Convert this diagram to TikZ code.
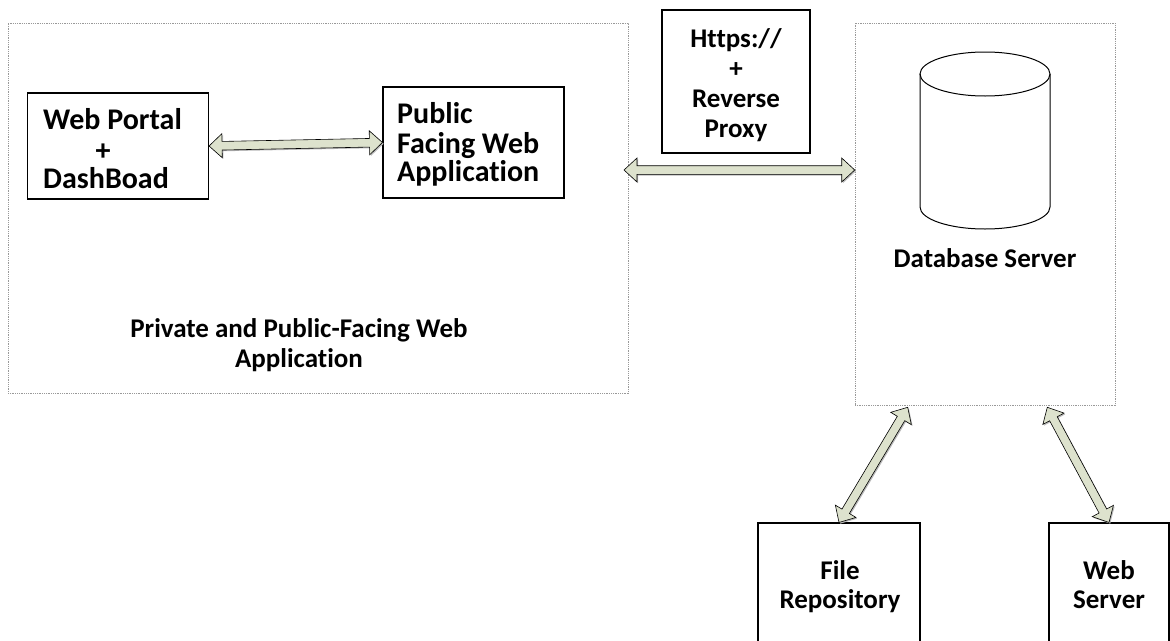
\documentclass[tikz,border=0pt]{standalone}
\usepackage{fontspec}
\setmainfont[Ligatures=NoCommon]{Carlito}
\usetikzlibrary{calc}
\definecolor{arrowfill}{RGB}{221,226,205}
\tikzset{
  container/.style={draw=gray!80, line width=0.6pt, dash pattern=on 1pt off 0.8pt, inner sep=0pt},
  box/.style={draw=black, line width=1.1pt, inner sep=0pt},
  lbl/.style={font=\fontsize{27}{30}\selectfont\bfseries, inner sep=0pt, anchor=base},
  biglbl/.style={lbl, font=\fontsize{30}{30}\selectfont\bfseries},
  arrowbody/.style={fill=arrowfill, draw=black, line width=0.6pt, line join=miter,
    preaction={fill=gray!55, transform canvas={xshift=1.2pt, yshift=-1.2pt}}}
}
\newcommand\blockarrow[2]{%
  \coordinate (ba1) at (#1); \coordinate (ba2) at (#2);
  \coordinate (bh1) at ($(ba1)!13pt!(ba2)$);
  \coordinate (bh2) at ($(ba2)!13pt!(ba1)$);
  \draw[arrowbody] (ba1) -- ($(bh1)!12pt!90:(ba1)$) -- ($(bh1)!4.3pt!90:(ba1)$)
    -- ($(bh2)!4.3pt!-90:(ba2)$) -- ($(bh2)!12pt!-90:(ba2)$) -- (ba2)
    -- ($(bh2)!12pt!90:(ba2)$) -- ($(bh2)!4.3pt!90:(ba2)$)
    -- ($(bh1)!4.3pt!-90:(ba1)$) -- ($(bh1)!12pt!-90:(ba1)$) -- cycle;
}
\begin{document}
\begin{tikzpicture}[x=1pt, y=-1pt]
\useasboundingbox (0,0) rectangle (1170,640);
\clip (0,0) rectangle (1170,640);
\fill[white] (0,0) rectangle (1170,640);

% containers
\node[container, minimum width=620pt, minimum height=370pt] (leftc) at (318,208) {};
\node[container, minimum width=260pt, minimum height=382pt] (rightc) at (985,214) {};

% boxes
\node[box, minimum width=181pt, minimum height=106pt] (portal) at (118,146) {};
\node[box, minimum width=181pt, minimum height=111pt] (public) at (473.5,142.5) {};
\node[box, minimum width=148pt, minimum height=143pt] (proxy) at (736,81.5) {};
\node[box, minimum width=162pt, minimum height=160pt] (file) at (839,603) {};
\node[box, minimum width=120pt, minimum height=160pt] (websrv) at (1109,603) {};

% texts
\node[biglbl, anchor=base west] (t1a) at (43,129) {Web Portal};
\node[biglbl] (t1b) at (103,160) {+};
\node[biglbl, anchor=base west] (t1c) at (43,188) {DashBoad};

\node[biglbl, anchor=base west] (t2a) at (397,123) {Public};
\node[biglbl, anchor=base west] (t2b) at (397,153) {Facing Web};
\node[biglbl, anchor=base west] (t2c) at (397,181) {Application};

\node[lbl] (t3a) at (736,47) {Https://};
\node[lbl] (t3b) at (736,77) {+};
\node[lbl] (t3c) at (736,107) {Reverse};
\node[lbl] (t3d) at (736,137) {Proxy};

\node[lbl] (t4a) at (299,337) {Private and Public-Facing Web};
\node[lbl] (t4b) at (299,367) {Application};

\node[lbl] (t5) at (985,267) {Database Server};

\node[lbl] (t6a) at (840,579) {File};
\node[lbl] (t6b) at (840,608) {Repository};

\node[lbl] (t7a) at (1109,579) {Web};
\node[lbl] (t7b) at (1109,608) {Server};

% database cylinder
\draw[line width=1pt] (920pt,-74pt) -- (920pt,-207pt)
  arc[start angle=180, end angle=360, x radius=65pt, y radius=22pt] -- (1050pt,-74pt);
\draw[line width=1pt] (985,74) ellipse [x radius=65pt, y radius=22pt];

% connectors
\blockarrow{portal.east}{public.west}
\coordinate (lA) at (624,170);
\coordinate (lB) at (rightc.west |- lA);
\blockarrow{lA}{lB}
\blockarrow{$(rightc.south west)+(53,2)$}{file.north}
\blockarrow{$(rightc.south east)+(-68,2)$}{websrv.north}
\end{tikzpicture}
\end{document}
